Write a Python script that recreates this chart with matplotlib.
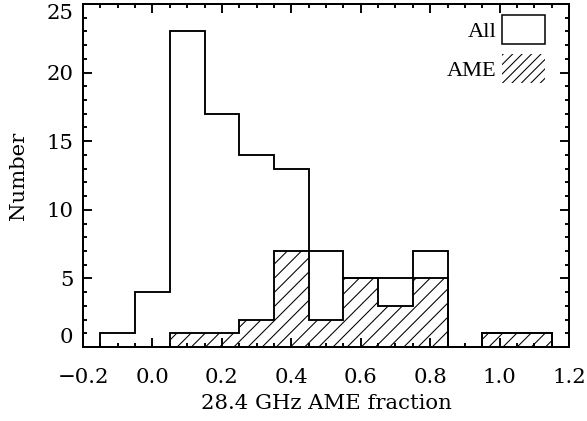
import numpy as np
import matplotlib
matplotlib.use("Agg")
import matplotlib.pyplot as plt
from matplotlib.patches import Patch
from matplotlib.ticker import MultipleLocator, FuncFormatter

# bin edges for the AME fraction histogram (width 0.1)
edges = np.round(np.arange(-0.15, 1.151, 0.1), 2)
# counts per bin, centres -0.1 ... 1.1
all_counts = [1, 4, 23, 17, 14, 13, 7, 5, 3, 7, 0, 1, 1]
ame_counts = [0, 0, 1, 1, 2, 7, 2, 5, 5, 5, 0, 1, 1]

DPI = 85
plt.rcParams['font.family'] = 'DejaVu Serif'
plt.rcParams['hatch.linewidth'] = 0.9

fig = plt.figure(figsize=(587 / DPI, 421 / DPI), dpi=DPI)
ax = fig.add_axes([83 / 587, 1 - 347 / 421, 486 / 587, 343 / 421])

lw = 1.6
# hatched part, clipped so it never goes above the total
ax.stairs(np.minimum(ame_counts, all_counts), edges, fill=True, hatch='//',
          facecolor='white', edgecolor='black', linewidth=0)
ax.stairs(ame_counts, edges, baseline=0, color='black', linewidth=lw)
ax.stairs(all_counts, edges, baseline=0, color='black', linewidth=lw)

ax.set_xlim(-0.2, 1.2)
ax.set_ylim(0, 25)
ax.xaxis.set_major_locator(MultipleLocator(0.2))
ax.xaxis.set_minor_locator(MultipleLocator(0.05))
ax.xaxis.set_major_formatter(FuncFormatter(lambda v, p: f'{v:.1f}'.replace('-', '\u2212')))
ax.yaxis.set_major_locator(MultipleLocator(5))
ax.yaxis.set_minor_locator(MultipleLocator(1))

for s in ax.spines.values():
    s.set_linewidth(1.7)
ax.tick_params(which='both', direction='in', top=True, right=True, width=1.6)
ax.tick_params(which='major', length=7.5, labelsize=18)
ax.tick_params(axis='x', which='major', pad=18)
ax.tick_params(axis='y', which='major', pad=8)
ax.tick_params(which='minor', length=3.8)

# end labels on the y axis are pushed inside like in IDL
fig.canvas.draw()
for t in ax.get_yticklabels():
    if t.get_text() == '0':
        t.set_va('bottom')
    elif t.get_text() == '25':
        t.set_va('top')

ax.set_xlabel('28.4 GHz AME fraction', fontsize=18, labelpad=6)
ax.set_ylabel('Number', fontsize=18, labelpad=16)

handles = [Patch(facecolor='white', edgecolor='black', linewidth=1.3),
           Patch(facecolor='white', edgecolor='black', hatch='///', linewidth=0)]
ax.legend(handles, ['All', 'AME'], loc='upper right',
          bbox_to_anchor=(1 - 24 / 486, 1 - 11 / 343), borderaxespad=0,
          borderpad=0, frameon=False, markerfirst=False,
          handlelength=1.9, handleheight=1.6, handletextpad=0.25,
          labelspacing=0.45, prop={'family': 'Liberation Serif', 'size': 19})

fig.savefig('out.png', dpi=DPI)
